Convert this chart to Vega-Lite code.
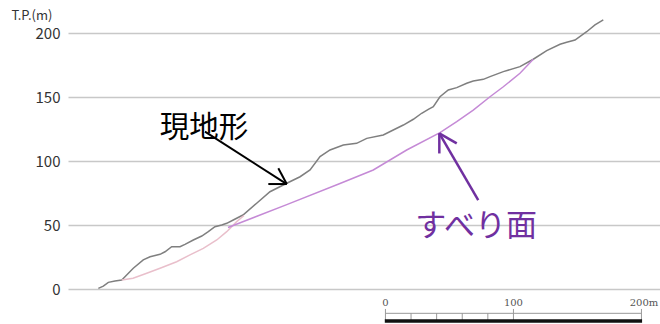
{
  "$schema": "https://vega.github.io/schema/vega-lite/v6.json",
  "width": 592,
  "height": 256,
  "autosize": {"type": "none"},
  "padding": {"left": 68, "top": 33, "right": 0, "bottom": 35},
  "background": "white",
  "config": {"view": {"stroke": null}, "font": "Noto Sans CJK JP"},
  "datasets": {
    "ground": [
      {"d": 23.7, "h": 0.5}, {"d": 27.6, "h": 2.3}, {"d": 31.5, "h": 5.2}, {"d": 36.7, "h": 6.3},
      {"d": 42.0, "h": 7.0}, {"d": 51.0, "h": 16.2}, {"d": 58.8, "h": 22.7}, {"d": 64.1, "h": 25.2},
      {"d": 71.9, "h": 27.1}, {"d": 75.8, "h": 29.1}, {"d": 81.0, "h": 33.0}, {"d": 87.5, "h": 33.0},
      {"d": 91.4, "h": 34.9}, {"d": 97.9, "h": 38.3}, {"d": 104.5, "h": 41.4}, {"d": 109.6, "h": 44.8},
      {"d": 114.8, "h": 48.7}, {"d": 120.1, "h": 50.0}, {"d": 124.0, "h": 51.3}, {"d": 129.1, "h": 53.9},
      {"d": 136.7, "h": 57.8}, {"d": 147.4, "h": 67.0}, {"d": 157.8, "h": 76.0}, {"d": 170.9, "h": 82.6},
      {"d": 181.3, "h": 87.7}, {"d": 189.1, "h": 93.0}, {"d": 196.9, "h": 103.4}, {"d": 204.7, "h": 108.6},
      {"d": 215.1, "h": 112.5}, {"d": 225.5, "h": 113.8}, {"d": 233.4, "h": 117.7}, {"d": 246.3, "h": 120.3},
      {"d": 254.1, "h": 124.2}, {"d": 262.0, "h": 128.1}, {"d": 269.8, "h": 132.6}, {"d": 276.3, "h": 137.3},
      {"d": 281.5, "h": 140.4}, {"d": 285.4, "h": 142.4}, {"d": 290.6, "h": 150.2}, {"d": 297.1, "h": 155.5},
      {"d": 303.7, "h": 157.3}, {"d": 311.5, "h": 160.7}, {"d": 316.6, "h": 162.5}, {"d": 324.5, "h": 163.8},
      {"d": 329.7, "h": 165.9}, {"d": 340.1, "h": 169.8}, {"d": 353.1, "h": 173.7}, {"d": 363.5, "h": 179.5},
      {"d": 374.0, "h": 186.2}, {"d": 384.4, "h": 191.2}, {"d": 389.6, "h": 192.7}, {"d": 396.1, "h": 194.5},
      {"d": 405.2, "h": 201.0}, {"d": 411.7, "h": 206.3}, {"d": 418.2, "h": 210.2}
    ],
    "oldslip": [
      {"d": 42.0, "h": 7.0}, {"d": 50.8, "h": 8.4}, {"d": 61.5, "h": 12.3}, {"d": 71.9, "h": 16.2},
      {"d": 84.9, "h": 21.3}, {"d": 95.3, "h": 26.6}, {"d": 105.7, "h": 31.8}, {"d": 116.2, "h": 38.3},
      {"d": 124.0, "h": 44.8}, {"d": 131.8, "h": 52.6}, {"d": 137.5, "h": 57.4}
    ],
    "slip": [
      {"d": 125.0, "h": 48.0}, {"d": 170.9, "h": 65.9}, {"d": 212.5, "h": 82.4}, {"d": 238.5, "h": 93.0},
      {"d": 264.6, "h": 108.6}, {"d": 290.6, "h": 122.1}, {"d": 303.7, "h": 130.7}, {"d": 316.6, "h": 139.8},
      {"d": 329.7, "h": 150.2}, {"d": 340.1, "h": 158.0}, {"d": 353.1, "h": 168.5}, {"d": 363.5, "h": 179.5}
    ],
    "blackArrow": [
      {"x1": 107.0, "y1": 122.9, "x2": 170.9, "y2": 82.0},
      {"x1": 156.5, "y1": 82.0, "x2": 170.9, "y2": 82.0},
      {"x1": 164.3, "y1": 94.3, "x2": 170.9, "y2": 82.0}
    ],
    "purpleArrow": [
      {"x1": 320.5, "y1": 69.5, "x2": 290.1, "y2": 121.6},
      {"x1": 303.7, "y1": 113.8, "x2": 290.1, "y2": 121.6},
      {"x1": 290.1, "y1": 105.9, "x2": 290.1, "y2": 121.6}
    ],
    "scaleTicks": [
      {"d": 248, "top": -15.6}, {"d": 268, "top": -18.8}, {"d": 288, "top": -18.8},
      {"d": 308, "top": -18.8}, {"d": 328, "top": -18.8}, {"d": 348, "top": -15.6}, {"d": 448, "top": -15.6}
    ],
    "scaleLabels": [
      {"d": 248, "label": "0"}, {"d": 348, "label": "100"}, {"d": 450, "label": "200m"}
    ],
    "scaleLine": [{"a": 248, "b": 448, "h": -19.0}],
    "scaleBar": [{"a": 247.5, "b": 448.5, "h": -25.0}]
  },
  "layer": [
    {
      "data": {"name": "ground"},
      "mark": {"type": "line", "color": "#7f7f7f", "strokeWidth": 1.5},
      "encoding": {
        "x": {"field": "d", "type": "quantitative", "scale": {"domain": [0, 462.5], "nice": false, "zero": false}, "axis": null},
        "y": {
          "field": "h", "type": "quantitative",
          "scale": {"domain": [0, 200], "nice": false},
          "axis": {
            "values": [0, 50, 100, 150, 200],
            "domain": false, "ticks": false,
            "grid": true, "gridColor": "#c8c8c8", "gridWidth": 1.5,
            "labelFontSize": 15, "labelColor": "#333333", "labelPadding": 8,
            "labelFont": "Noto Sans CJK JP",
            "title": "T.P.(m)", "titleAngle": 0, "titleAlign": "left", "titleBaseline": "bottom",
            "titleX": -57, "titleY": -11, "titleFontSize": 13, "titleFontWeight": "normal",
            "titleColor": "#333333", "titleFont": "Noto Sans CJK JP"
          }
        }
      }
    },
    {
      "data": {"name": "oldslip"},
      "mark": {"type": "line", "color": "#e9bfcb", "strokeWidth": 1.5},
      "encoding": {"x": {"field": "d", "type": "quantitative"}, "y": {"field": "h", "type": "quantitative"}}
    },
    {
      "data": {"name": "slip"},
      "mark": {"type": "line", "color": "#c58ad6", "strokeWidth": 1.5},
      "encoding": {"x": {"field": "d", "type": "quantitative"}, "y": {"field": "h", "type": "quantitative"}}
    },
    {
      "data": {"name": "blackArrow"},
      "mark": {"type": "rule", "color": "#000000", "strokeWidth": 2},
      "encoding": {
        "x": {"field": "x1", "type": "quantitative"}, "y": {"field": "y1", "type": "quantitative"},
        "x2": {"field": "x2"}, "y2": {"field": "y2"}
      }
    },
    {
      "data": {"name": "purpleArrow"},
      "mark": {"type": "rule", "color": "#7030a0", "strokeWidth": 2.5},
      "encoding": {
        "x": {"field": "x1", "type": "quantitative"}, "y": {"field": "y1", "type": "quantitative"},
        "x2": {"field": "x2"}, "y2": {"field": "y2"}
      }
    },
    {
      "data": {"values": [{"d": 106.3, "h": 125.8, "t": "現地形"}]},
      "mark": {"type": "text", "color": "#000000", "fontSize": 29.5, "font": "Noto Sans CJK JP", "align": "center", "baseline": "middle"},
      "encoding": {"x": {"field": "d", "type": "quantitative"}, "y": {"field": "h", "type": "quantitative"}, "text": {"field": "t"}}
    },
    {
      "data": {"values": [{"d": 318.8, "h": 48.4, "t": "すべり面"}]},
      "mark": {"type": "text", "color": "#7030a0", "fontSize": 31, "font": "Noto Sans CJK JP", "align": "center", "baseline": "middle"},
      "encoding": {"x": {"field": "d", "type": "quantitative"}, "y": {"field": "h", "type": "quantitative"}, "text": {"field": "t"}}
    },
    {
      "data": {"name": "scaleLine"},
      "mark": {"type": "rule", "color": "#999999", "strokeWidth": 1},
      "encoding": {"x": {"field": "a", "type": "quantitative"}, "x2": {"field": "b"}, "y": {"field": "h", "type": "quantitative"}}
    },
    {
      "data": {"name": "scaleTicks"},
      "mark": {"type": "rule", "color": "#999999", "strokeWidth": 1},
      "encoding": {"x": {"field": "d", "type": "quantitative"}, "y": {"field": "top", "type": "quantitative"}, "y2": {"datum": -24.5}}
    },
    {
      "data": {"name": "scaleBar"},
      "mark": {"type": "rule", "color": "#111111", "strokeWidth": 3.5},
      "encoding": {"x": {"field": "a", "type": "quantitative"}, "x2": {"field": "b"}, "y": {"field": "h", "type": "quantitative"}}
    },
    {
      "data": {"name": "scaleLabels"},
      "mark": {"type": "text", "color": "#555555", "fontSize": 10, "font": "DejaVu Serif", "align": "center", "baseline": "alphabetic"},
      "encoding": {"x": {"field": "d", "type": "quantitative"}, "y": {"datum": -13.3}, "text": {"field": "label"}}
    }
  ]
}
